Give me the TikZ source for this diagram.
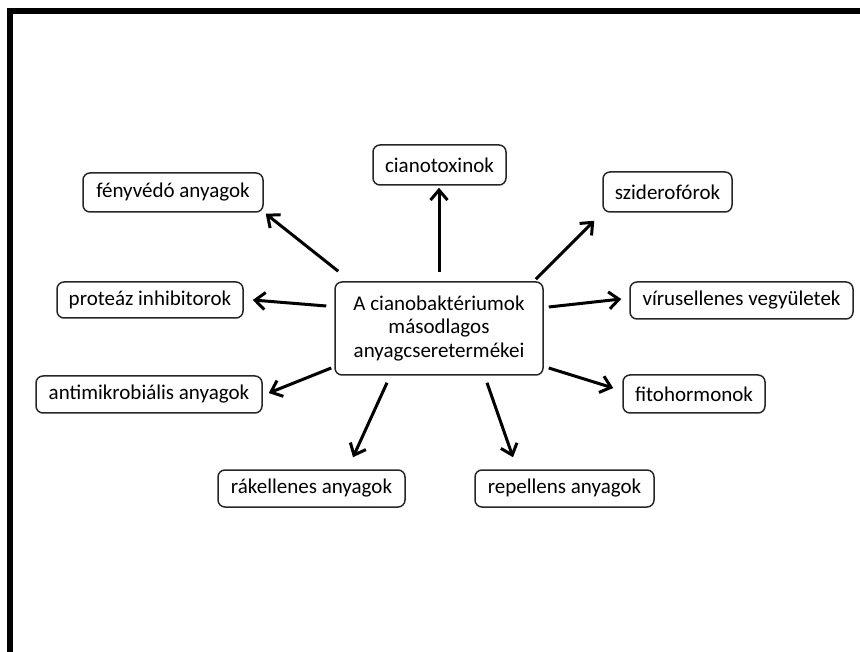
\documentclass[tikz,border=0pt]{standalone}
\usepackage{fontspec}
\setmainfont{Carlito}
\usetikzlibrary{arrows.meta}
\begin{document}
\begin{tikzpicture}[x=1pt,y=-1pt,
  box/.style={draw=black!85, line width=1.5pt, rounded corners=7pt, inner sep=0pt,
    font=\fontsize{21}{23.5}\selectfont, align=center, text=black},
  arr/.style={line width=3pt, -{Straight Barb[length=10pt,width=17pt]}}]
\useasboundingbox (0,0) rectangle (860,652);
\fill (7,8) rectangle (13,652);
\fill (7,8) rectangle (860,14);
\node[box, minimum width=208pt, minimum height=93pt] (c) at (439,328.5) {A cianobaktériumok\\másodlagos\\anyagcseretermékei};
\node[box, minimum width=133pt, minimum height=40pt] (cia) at (439.5,165) {cianotoxinok};
\node[box, minimum width=180pt, minimum height=39pt] (fen) at (173,192.5) {fényvédó anyagok};
\node[box, minimum width=186pt, minimum height=36pt] (pro) at (150,300) {proteáz inhibitorok};
\node[box, minimum width=129pt, minimum height=40pt] (szi) at (667.5,192) {sziderofórok};
\node[box, minimum width=223pt, minimum height=37pt] (vir) at (741.5,300.5) {vírusellenes vegyületek};
\node[box, minimum width=142pt, minimum height=38pt] (fit) at (694,394) {fitohormonok};
\node[box, minimum width=226pt, minimum height=37pt] (ant) at (149,394.5) {antimikrobiális anyagok};
\node[box, minimum width=187pt, minimum height=37pt] (rak) at (311.5,488.5) {rákellenes anyagok};
\node[box, minimum width=179pt, minimum height=37pt] (rep) at (564.5,488.5) {repellens anyagok};
\draw[arr] ([shift={(0,-9)}]c.north) -- ([shift={(-0.5,2)}]cia.south);
\draw[arr] ([shift={(4,-10)}]c.north west) -- ([shift={(2,1)}]fen.south east);
\draw[arr] ([shift={(-8,-22.5)}]c.west) -- ([shift={(9,0)}]pro.east);
\draw[arr] ([shift={(-8,-2)}]c.north east) -- ([shift={(-8,8)}]szi.south west);
\draw[arr] ([shift={(5,-21.5)}]c.east) -- ([shift={(-8,-1.5)}]vir.west);
\draw[arr] ([shift={(5,39.5)}]c.east) -- ([shift={(-9,-6)}]fit.west);
\draw[arr] ([shift={(-3,39.5)}]c.west) -- ([shift={(6,-1.5)}]ant.east);
\draw[arr] ([shift={(-52,7)}]c.south) -- ([shift={(41.5,-12)}]rak.north);
\draw[arr] ([shift={(48,7)}]c.south) -- ([shift={(-51.5,-12)}]rep.north);
\end{tikzpicture}
\end{document}
